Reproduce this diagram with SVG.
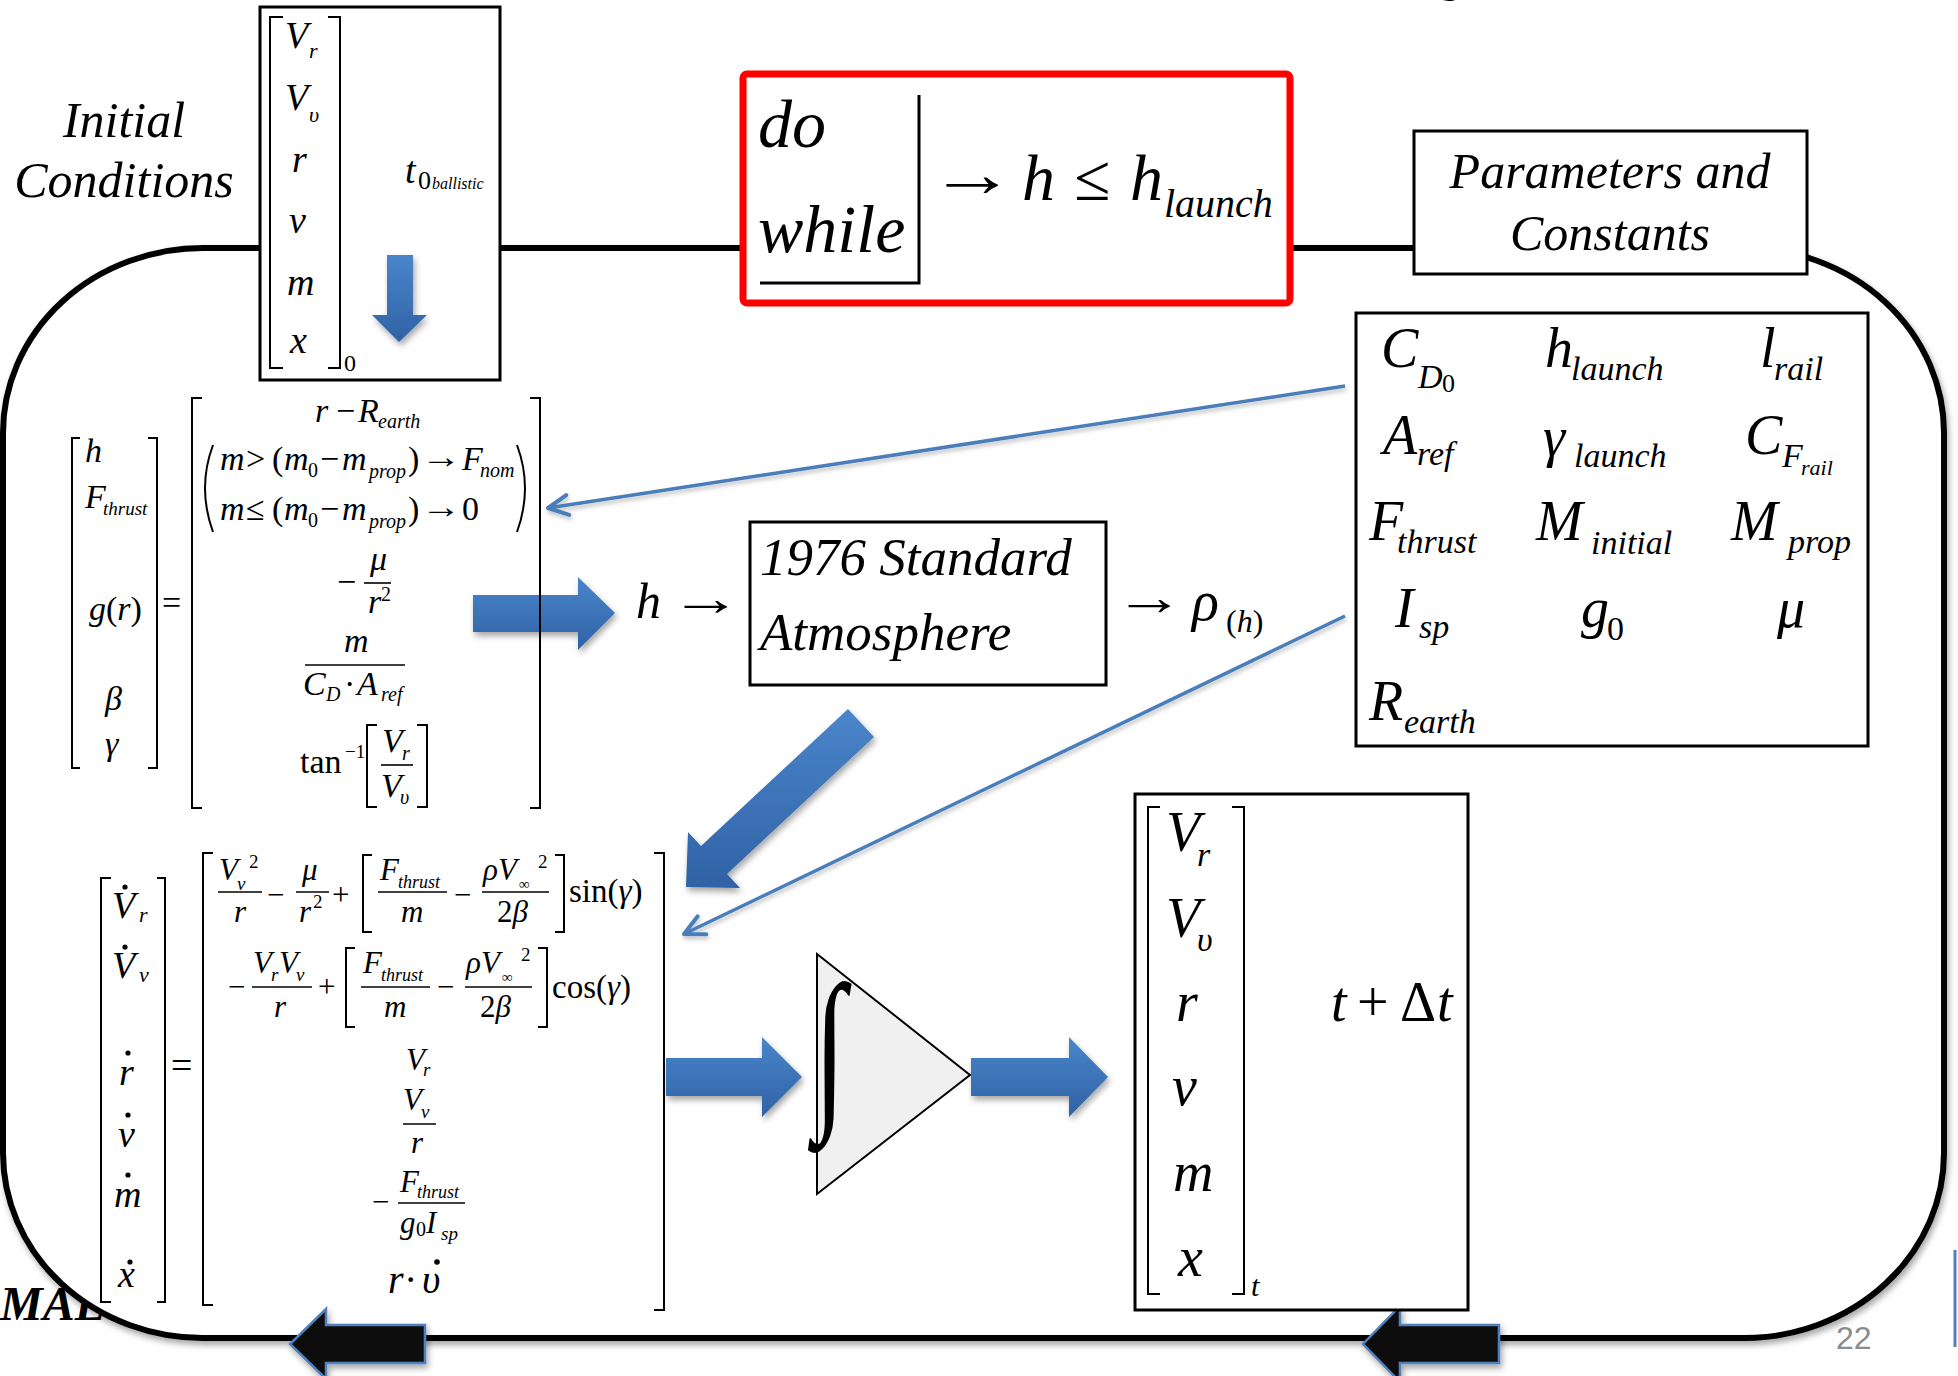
<svg xmlns="http://www.w3.org/2000/svg" width="1958" height="1376" viewBox="0 0 1958 1376" font-family="Liberation Serif, Times New Roman, serif">
<defs>
<style>
.t{font-style:italic;fill:#000}
.u{font-style:normal;fill:#000}
.br{fill:none;stroke:#000;stroke-width:2}
.bx{fill:#fff;stroke:#000;stroke-width:3}
.bar{stroke:#000;stroke-width:1.6}
.blue{fill:url(#bg);filter:url(#sh)}
.thin{fill:none;stroke:#4a7ebb;stroke-width:3.5;marker-end:url(#ah);filter:url(#sh2)}
.blk{fill:#111;stroke:#4f81bd;stroke-width:2.5;filter:url(#sh)}
</style>
<linearGradient id="bg" x1="0" y1="0" x2="0" y2="1"><stop offset="0" stop-color="#4a85ca"/><stop offset="1" stop-color="#2f62a5"/></linearGradient>
<linearGradient id="fg" x1="0" y1="0" x2="1" y2="0"><stop offset="0" stop-color="#5b8dc9"/><stop offset="0.3" stop-color="#3d6aa0"/><stop offset="1" stop-color="#4a7ab5"/></linearGradient>
<filter id="sh" x="-20%" y="-20%" width="150%" height="150%"><feDropShadow dx="2" dy="4" stdDeviation="3" flood-color="#000" flood-opacity="0.35"/></filter>
<filter id="sh2" x="-10%" y="-30%" width="130%" height="170%"><feDropShadow dx="1" dy="3" stdDeviation="2" flood-color="#000" flood-opacity="0.25"/></filter>
<marker id="ah" markerUnits="userSpaceOnUse" markerWidth="30" markerHeight="30" refX="0" refY="0" viewBox="-25 -15 30 30" orient="auto"><path d="M-20,-10 L0,0 L-20,10" fill="none" stroke="#4a7ebb" stroke-width="4" stroke-linecap="round" stroke-linejoin="round"/></marker>
</defs>

<g id="slide">
<rect x="0" y="0" width="1958" height="1376" fill="#fff"/>
<text x="1432" y="-12" font-family="Liberation Sans, sans-serif" font-size="62" fill="#000">g</text>
<line x1="0" y1="1345" x2="1955" y2="1345" stroke="url(#fg)" stroke-width="5"/>
<line x1="1955" y1="1250" x2="1955" y2="1347" stroke="#4f81bd" stroke-width="3"/>
<text x="0" y="1320" font-style="italic" font-weight="bold" font-size="48" fill="#000">MAE</text>
</g>

<g id="connectors">
<rect x="3" y="248" width="1941" height="1090" rx="200" ry="185" fill="#fff" stroke="#000" stroke-width="6" filter="url(#sh)"/>
<polygon class="blk" points="425,1325 326,1325 326,1309 290,1344 326,1379 326,1363 425,1363"/>
<polygon class="blk" points="1499,1325 1400,1325 1400,1306 1363,1344 1400,1382 1400,1363 1499,1363"/>
<line class="thin" x1="1345" y1="386" x2="548" y2="508"/>
<line class="thin" x1="1345" y1="616" x2="684" y2="934"/>
<polygon class="blue" points="473,595 578,595 578,577 615,613 578,650 578,632 473,632"/>
<polygon class="blue" points="848,709 874,737 727,874 740,888 686,887 688,832 701,846"/>
<polygon class="blue" points="666,1058 762,1058 762,1037 802,1077 762,1117 762,1096 666,1096"/>
<polygon class="blue" points="971,1058 1069,1058 1069,1037 1108,1077 1069,1117 1069,1096 971,1096"/>
</g>
<text x="1836" y="1349" font-family="Liberation Sans, sans-serif" font-size="32" fill="#8c8c8c">22</text>

<g id="initial-label">
<text class="t" x="124" y="137" font-size="50" text-anchor="middle">Initial</text>
<text class="t" x="124" y="197" font-size="50" text-anchor="middle">Conditions</text>
</g>

<g id="initial-vector">
<rect class="bx" x="260" y="7" width="240" height="373" stroke-width="2.5"/>
<path class="br" stroke-width="2.5" d="M283,17 H270 V368 H283 M328,17 H340 V368 H328"/>
<text class="t" x="285" y="48" font-size="38">V</text><text class="t" x="309" y="58" font-size="22">r</text>
<text class="t" x="285" y="110" font-size="38">V</text><text class="t" x="309" y="122" font-size="22">υ</text>
<text class="t" x="292" y="172" font-size="38">r</text>
<text class="t" x="289" y="233" font-size="38">ν</text>
<text class="t" x="287" y="295" font-size="38">m</text>
<text class="t" x="290" y="353" font-size="38">x</text>
<text class="u" x="344" y="371" font-size="24">0</text>
<text class="t" x="405" y="183" font-size="38">t</text>
<text class="u" x="418" y="189" font-size="26">0</text>
<text class="t" x="432" y="189" font-size="16">ballistic</text>
<polygon class="blue" points="387,255 413,255 413,315 427,315 399,342 372,315 387,315"/>
</g>

<g id="do-while">
<rect x="743" y="74" width="547" height="229" rx="4" fill="#fff" stroke="#ff0000" stroke-width="7"/>
<path d="M919,95 V283 H760" fill="none" stroke="#000" stroke-width="3"/>
<text class="t" x="758" y="147" font-size="68">do</text>
<text class="t" x="758" y="252" font-size="68">while</text>
<text class="u" x="929" y="196" font-size="66" textLength="87" lengthAdjust="spacingAndGlyphs">→</text>
<text class="t" x="1022" y="200" font-size="66">h</text>
<text class="u" x="1074" y="200" font-size="66">≤</text>
<text class="t" x="1130" y="200" font-size="66">h</text>
<text class="t" x="1164" y="217" font-size="40">launch</text>
</g>

<g id="params-label">
<rect class="bx" x="1414" y="131" width="393" height="143" stroke-width="3"/>
<text class="t" x="1610" y="188" font-size="50" text-anchor="middle">Parameters and</text>
<text class="t" x="1610" y="250" font-size="50" text-anchor="middle">Constants</text>
</g>

<g id="params">
<rect class="bx" x="1356" y="313" width="512" height="433" stroke-width="3"/>
<text class="t" x="1381" y="367" font-size="56">C</text><text class="t" x="1418" y="388" font-size="34">D</text><text class="u" x="1442" y="392" font-size="26">0</text>
<text class="t" x="1545" y="367" font-size="56">h</text><text class="t" x="1571" y="380" font-size="34">launch</text>
<text class="t" x="1760" y="367" font-size="56">l</text><text class="t" x="1774" y="380" font-size="34">rail</text>
<text class="t" x="1383" y="454" font-size="56">A</text><text class="t" x="1417" y="465" font-size="34">ref</text>
<text class="t" x="1543" y="456" font-size="56">γ</text><text class="t" x="1574" y="467" font-size="34">launch</text>
<text class="t" x="1745" y="454" font-size="56">C</text><text class="t" x="1782" y="467" font-size="34">F</text><text class="t" x="1801" y="475" font-size="22">rail</text>
<text class="t" x="1369" y="540" font-size="56">F</text><text class="t" x="1397" y="553" font-size="34">thrust</text>
<text class="t" x="1536" y="540" font-size="56">M</text><text class="t" x="1591" y="554" font-size="34">initial</text>
<text class="t" x="1731" y="540" font-size="56">M</text><text class="t" x="1788" y="553" font-size="34">prop</text>
<text class="t" x="1395" y="627" font-size="56">I</text><text class="t" x="1419" y="638" font-size="34">sp</text>
<text class="t" x="1581" y="627" font-size="56">g</text><text class="u" x="1607" y="640" font-size="34">0</text>
<text class="t" x="1777" y="627" font-size="56">μ</text>
<text class="t" x="1369" y="720" font-size="56">R</text><text class="t" x="1404" y="733" font-size="34">earth</text>
</g>

<g id="eq-aux">
<path class="br" d="M80,438 H72 V768 H80 M148,438 H157 V768 H148"/>
<text class="t" x="85" y="462" font-size="34">h</text>
<text class="t" x="85" y="508" font-size="34">F</text><text class="t" x="103" y="515" font-size="19">thrust</text>
<text class="t" x="89" y="620" font-size="34">g<tspan class="u">(</tspan>r<tspan class="u">)</tspan></text>
<text class="t" x="105" y="710" font-size="34">β</text>
<text class="t" x="105" y="755" font-size="34">γ</text>
<text class="u" x="162" y="614" font-size="34">=</text>
<path class="br" d="M202,398 H192 V808 H202 M530,398 H540 V808 H530"/>
<text class="t" x="315" y="422" font-size="34">r</text><text class="u" x="336" y="422" font-size="34">−</text><text class="t" x="358" y="422" font-size="34">R</text><text class="t" x="378" y="428" font-size="20">earth</text>
<path class="br" d="M213,445 Q197,488 213,532 M517,445 Q533,488 517,532"/>
<text class="t" x="220" y="470" font-size="34">m</text><text class="u" x="246" y="470" font-size="34">&gt;</text><text class="u" x="272" y="470" font-size="34">(</text><text class="t" x="284" y="470" font-size="34">m</text><text class="u" x="308" y="477" font-size="20">0</text><text class="u" x="320" y="470" font-size="34">−</text><text class="t" x="342" y="470" font-size="34">m</text><text class="t" x="369" y="478" font-size="20">prop</text><text class="u" x="408" y="470" font-size="34">)</text><text class="u" x="421" y="468" font-size="34" textLength="40" lengthAdjust="spacingAndGlyphs">→</text><text class="t" x="462" y="470" font-size="34">F</text><text class="t" x="480" y="477" font-size="20">nom</text>
<text class="t" x="220" y="520" font-size="34">m</text><text class="u" x="246" y="520" font-size="34">≤</text><text class="u" x="272" y="520" font-size="34">(</text><text class="t" x="284" y="520" font-size="34">m</text><text class="u" x="308" y="527" font-size="20">0</text><text class="u" x="320" y="520" font-size="34">−</text><text class="t" x="342" y="520" font-size="34">m</text><text class="t" x="369" y="528" font-size="20">prop</text><text class="u" x="408" y="520" font-size="34">)</text><text class="u" x="421" y="518" font-size="34" textLength="40" lengthAdjust="spacingAndGlyphs">→</text><text class="u" x="462" y="520" font-size="34">0</text>
<text class="u" x="337" y="593" font-size="34">−</text>
<text class="t" x="370" y="570" font-size="34">μ</text>
<line class="bar" x1="364" y1="583" x2="391" y2="583"/>
<text class="t" x="368" y="613" font-size="34">r</text><text class="u" x="381" y="601" font-size="20">2</text>
<text class="t" x="344" y="652" font-size="34">m</text>
<line class="bar" x1="305" y1="665" x2="405" y2="665"/>
<text class="t" x="303" y="695" font-size="34">C</text><text class="t" x="326" y="701" font-size="20">D</text><text class="u" x="344" y="695" font-size="34">·</text><text class="t" x="357" y="695" font-size="34">A</text><text class="t" x="381" y="701" font-size="20">ref</text>
<text class="u" x="300" y="773" font-size="34">tan</text><text class="u" x="345" y="758" font-size="19">−1</text>
<path class="br" d="M377,725 H367 V807 H377 M417,725 H427 V807 H417"/>
<text class="t" x="382" y="752" font-size="34">V</text><text class="t" x="402" y="760" font-size="20">r</text>
<line class="bar" x1="381" y1="765" x2="413" y2="765"/>
<text class="t" x="381" y="797" font-size="34">V</text><text class="t" x="400" y="804" font-size="20">υ</text>
</g>

<g id="atmosphere">
<text class="t" x="636" y="618" font-size="50">h</text>
<text class="u" x="670" y="615" font-size="50" textLength="72" lengthAdjust="spacingAndGlyphs">→</text>
<rect class="bx" x="750" y="522" width="356" height="163" stroke-width="3"/>
<text class="t" x="760" y="575" font-size="53">1976 Standard</text>
<text class="t" x="760" y="650" font-size="53">Atmosphere</text>
<text class="u" x="1114" y="615" font-size="52" textLength="70" lengthAdjust="spacingAndGlyphs">→</text>
<text class="t" x="1192" y="620" font-size="56">ρ</text>
<text class="u" x="1226" y="632" font-size="32">(<tspan class="t">h</tspan>)</text>
</g>

<g id="eq-dynamics">
<path class="br" d="M111,878 H101 V1302 H111 M157,878 H165 V1302 H157"/>
<text class="t" x="112" y="918" font-size="38">V</text><text class="t" x="139" y="922" font-size="22">r</text><circle cx="125" cy="887" r="2.6"/>
<text class="t" x="112" y="978" font-size="38">V</text><text class="t" x="139" y="982" font-size="22">ν</text><circle cx="125" cy="947" r="2.6"/>
<text class="t" x="119" y="1085" font-size="38">r</text><circle cx="128" cy="1053" r="2.6"/>
<text class="t" x="118" y="1147" font-size="38">ν</text><circle cx="128" cy="1115" r="2.6"/>
<text class="t" x="114" y="1207" font-size="38">m</text><circle cx="128" cy="1175" r="2.6"/>
<text class="t" x="118" y="1287" font-size="38">x</text><circle cx="130" cy="1262" r="2.6"/>
<text class="u" x="171" y="1078" font-size="38">=</text>
<path class="br" d="M213,853 H203 V1305 H213 M654,853 H664 V1310 H654"/>
<text class="t" x="219" y="880" font-size="31">V</text><text class="t" x="237" y="890" font-size="19">ν</text><text class="u" x="249" y="868" font-size="19">2</text>
<line class="bar" x1="218" y1="892" x2="262" y2="892"/>
<text class="t" x="234" y="922" font-size="31">r</text>
<text class="u" x="267" y="905" font-size="31">−</text>
<text class="t" x="302" y="880" font-size="31">μ</text>
<line class="bar" x1="296" y1="892" x2="329" y2="892"/>
<text class="t" x="299" y="922" font-size="31">r</text><text class="u" x="313" y="908" font-size="19">2</text>
<text class="u" x="332" y="905" font-size="31">+</text>
<path class="br" d="M372,855 H363 V932 H372 M555,855 H564 V932 H555"/>
<text class="t" x="380" y="880" font-size="31">F</text><text class="t" x="398" y="888" font-size="18">thrust</text>
<line class="bar" x1="378" y1="892" x2="447" y2="892"/>
<text class="t" x="401" y="922" font-size="31">m</text>
<text class="u" x="454" y="905" font-size="31">−</text>
<text class="t" x="483" y="880" font-size="31">ρV</text><text class="u" x="519" y="889" font-size="15">∞</text><text class="u" x="538" y="868" font-size="19">2</text>
<line class="bar" x1="482" y1="892" x2="549" y2="892"/>
<text class="u" x="497" y="922" font-size="31">2<tspan class="t">β</tspan></text>
<text class="u" x="569" y="902" font-size="33">sin(<tspan class="t">γ</tspan>)</text>
<text class="u" x="228" y="997" font-size="31">−</text>
<text class="t" x="253" y="973" font-size="31">V</text><text class="t" x="271" y="981" font-size="19">r</text><text class="t" x="279" y="973" font-size="31">V</text><text class="t" x="296" y="981" font-size="19">ν</text>
<line class="bar" x1="252" y1="987" x2="312" y2="987"/>
<text class="t" x="274" y="1017" font-size="31">r</text>
<text class="u" x="318" y="997" font-size="31">+</text>
<path class="br" d="M355,948 H346 V1027 H355 M538,948 H547 V1027 H538"/>
<text class="t" x="363" y="973" font-size="31">F</text><text class="t" x="381" y="981" font-size="18">thrust</text>
<line class="bar" x1="361" y1="987" x2="430" y2="987"/>
<text class="t" x="384" y="1017" font-size="31">m</text>
<text class="u" x="437" y="997" font-size="31">−</text>
<text class="t" x="466" y="973" font-size="31">ρV</text><text class="u" x="502" y="982" font-size="15">∞</text><text class="u" x="521" y="961" font-size="19">2</text>
<line class="bar" x1="465" y1="987" x2="532" y2="987"/>
<text class="u" x="480" y="1017" font-size="31">2<tspan class="t">β</tspan></text>
<text class="u" x="552" y="998" font-size="33">cos(<tspan class="t">γ</tspan>)</text>
<text class="t" x="406" y="1070" font-size="31">V</text><text class="t" x="423" y="1076" font-size="19">r</text>
<text class="t" x="403" y="1110" font-size="31">V</text><text class="t" x="421" y="1118" font-size="19">ν</text>
<line class="bar" x1="403" y1="1124" x2="436" y2="1124"/>
<text class="t" x="411" y="1153" font-size="31">r</text>
<text class="u" x="372" y="1212" font-size="31">−</text>
<text class="t" x="400" y="1192" font-size="31">F</text><text class="t" x="417" y="1198" font-size="18">thrust</text>
<line class="bar" x1="398" y1="1203" x2="465" y2="1203"/>
<text class="t" x="400" y="1233" font-size="31">g</text><text class="u" x="416" y="1236" font-size="20">0</text><text class="t" x="426" y="1233" font-size="31">I</text><text class="t" x="441" y="1240" font-size="19">sp</text>
<text class="t" x="388" y="1293" font-size="40">r</text><text class="u" x="404" y="1293" font-size="40">·</text><text class="t" x="422" y="1293" font-size="40">υ</text><circle cx="437" cy="1262" r="2.8"/>
</g>

<g id="integrator">
<polygon points="817,954 970,1075 817,1194" fill="#f0f0f0" stroke="#000" stroke-width="2"/>
<text class="u" transform="translate(814,1106) scale(0.66,1)" x="0" y="0" font-size="175" font-weight="bold">∫</text>
</g>

<g id="state-out">
<rect class="bx" x="1135" y="794" width="333" height="516" stroke-width="3"/>
<path class="br" stroke-width="3.5" d="M1160,807 H1148 V1294 H1160 M1232,807 H1244 V1294 H1232"/>
<text class="t" x="1166" y="851" font-size="56">V</text><text class="t" x="1197" y="866" font-size="34">r</text>
<text class="t" x="1166" y="937" font-size="56">V</text><text class="t" x="1197" y="951" font-size="34">υ</text>
<text class="t" x="1176" y="1021" font-size="56">r</text>
<text class="t" x="1172" y="1105" font-size="56">ν</text>
<text class="t" x="1173" y="1191" font-size="56">m</text>
<text class="t" x="1178" y="1276" font-size="56">x</text>
<text class="t" x="1251" y="1296" font-size="30">t</text>
<text class="t" x="1331" y="1021" font-size="56">t</text><text class="u" x="1357" y="1021" font-size="56">+</text><text class="u" x="1400" y="1021" font-size="56">Δ</text><text class="t" x="1437" y="1021" font-size="56">t</text>
</g>
</svg>
